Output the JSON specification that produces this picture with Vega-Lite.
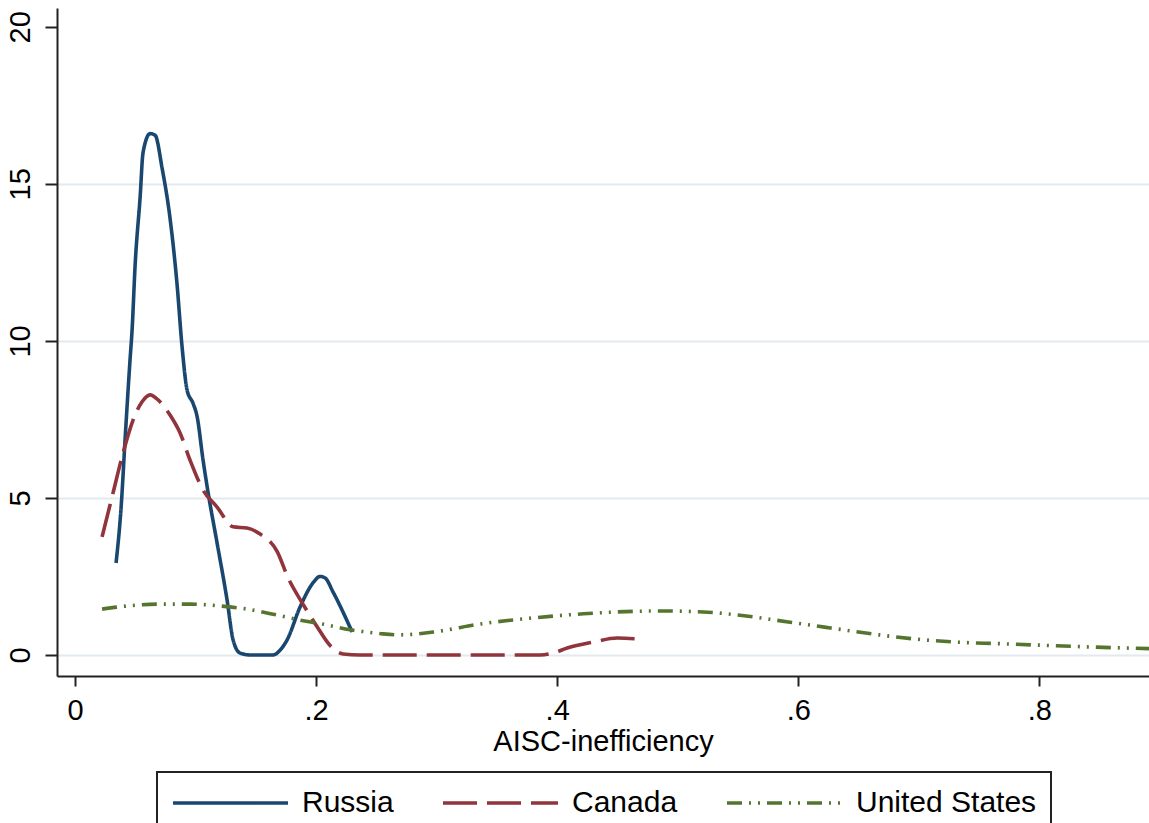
{
  "$schema": "https://vega.github.io/schema/vega-lite/v6.json",
  "width": 1092,
  "height": 668,
  "autosize": {"type": "none"},
  "padding": {"left": 57, "top": 8, "right": 0, "bottom": 147},
  "background": "white",
  "config": {
    "view": {"stroke": null},
    "font": "Liberation Sans",
    "axis": {"labelFont": "Liberation Sans", "titleFont": "Liberation Sans"},
    "legend": {"labelFont": "Liberation Sans"}
  },
  "data": {"values": [
    {"country": "Russia", "x": 0.034, "y": 2.93},
    {"country": "Russia", "x": 0.038, "y": 4.6},
    {"country": "Russia", "x": 0.042, "y": 7.2},
    {"country": "Russia", "x": 0.0456, "y": 9.4},
    {"country": "Russia", "x": 0.0473, "y": 10.35},
    {"country": "Russia", "x": 0.0498, "y": 12.4},
    {"country": "Russia", "x": 0.054, "y": 14.6},
    {"country": "Russia", "x": 0.0564, "y": 16.0},
    {"country": "Russia", "x": 0.0622, "y": 16.6},
    {"country": "Russia", "x": 0.0664, "y": 16.55},
    {"country": "Russia", "x": 0.0722, "y": 15.5},
    {"country": "Russia", "x": 0.0788, "y": 13.9},
    {"country": "Russia", "x": 0.0846, "y": 11.8},
    {"country": "Russia", "x": 0.0888, "y": 9.8},
    {"country": "Russia", "x": 0.0929, "y": 8.44},
    {"country": "Russia", "x": 0.098, "y": 8.0},
    {"country": "Russia", "x": 0.1012, "y": 7.6},
    {"country": "Russia", "x": 0.1062, "y": 6.2},
    {"country": "Russia", "x": 0.1104, "y": 5.16},
    {"country": "Russia", "x": 0.1178, "y": 3.57},
    {"country": "Russia", "x": 0.1261, "y": 1.75},
    {"country": "Russia", "x": 0.1311, "y": 0.48},
    {"country": "Russia", "x": 0.1369, "y": 0.06},
    {"country": "Russia", "x": 0.1452, "y": 0},
    {"country": "Russia", "x": 0.1643, "y": 0},
    {"country": "Russia", "x": 0.170, "y": 0.15},
    {"country": "Russia", "x": 0.1759, "y": 0.48},
    {"country": "Russia", "x": 0.1867, "y": 1.53},
    {"country": "Russia", "x": 0.1975, "y": 2.3},
    {"country": "Russia", "x": 0.2033, "y": 2.5},
    {"country": "Russia", "x": 0.2075, "y": 2.45},
    {"country": "Russia", "x": 0.2141, "y": 2.0},
    {"country": "Russia", "x": 0.2299, "y": 0.73},
    {"country": "Canada", "x": 0.0224, "y": 3.76},
    {"country": "Canada", "x": 0.0315, "y": 5.16},
    {"country": "Canada", "x": 0.0398, "y": 6.43},
    {"country": "Canada", "x": 0.0481, "y": 7.48},
    {"country": "Canada", "x": 0.0556, "y": 8.06},
    {"country": "Canada", "x": 0.0622, "y": 8.28},
    {"country": "Canada", "x": 0.0689, "y": 8.12},
    {"country": "Canada", "x": 0.0788, "y": 7.64},
    {"country": "Canada", "x": 0.0871, "y": 7.07},
    {"country": "Canada", "x": 0.0954, "y": 6.2},
    {"country": "Canada", "x": 0.1062, "y": 5.25},
    {"country": "Canada", "x": 0.1178, "y": 4.71},
    {"country": "Canada", "x": 0.1311, "y": 4.08},
    {"country": "Canada", "x": 0.1427, "y": 4.04},
    {"country": "Canada", "x": 0.1535, "y": 3.85},
    {"country": "Canada", "x": 0.1676, "y": 3.3},
    {"country": "Canada", "x": 0.1768, "y": 2.45},
    {"country": "Canada", "x": 0.1884, "y": 1.66},
    {"country": "Canada", "x": 0.2008, "y": 0.9},
    {"country": "Canada", "x": 0.2116, "y": 0.3},
    {"country": "Canada", "x": 0.2224, "y": 0.03},
    {"country": "Canada", "x": 0.2365, "y": 0},
    {"country": "Canada", "x": 0.3859, "y": 0},
    {"country": "Canada", "x": 0.3967, "y": 0.06},
    {"country": "Canada", "x": 0.4083, "y": 0.22},
    {"country": "Canada", "x": 0.4299, "y": 0.41},
    {"country": "Canada", "x": 0.4498, "y": 0.54},
    {"country": "Canada", "x": 0.4672, "y": 0.51},
    {"country": "United States", "x": 0.0224, "y": 1.46},
    {"country": "United States", "x": 0.0432, "y": 1.56},
    {"country": "United States", "x": 0.068, "y": 1.62},
    {"country": "United States", "x": 0.0954, "y": 1.62},
    {"country": "United States", "x": 0.1203, "y": 1.56},
    {"country": "United States", "x": 0.1427, "y": 1.46},
    {"country": "United States", "x": 0.1676, "y": 1.27},
    {"country": "United States", "x": 0.1867, "y": 1.11},
    {"country": "United States", "x": 0.2033, "y": 1.0},
    {"country": "United States", "x": 0.2282, "y": 0.8},
    {"country": "United States", "x": 0.2423, "y": 0.73},
    {"country": "United States", "x": 0.2556, "y": 0.67},
    {"country": "United States", "x": 0.2697, "y": 0.64},
    {"country": "United States", "x": 0.2971, "y": 0.73},
    {"country": "United States", "x": 0.3386, "y": 1.0},
    {"country": "United States", "x": 0.3801, "y": 1.18},
    {"country": "United States", "x": 0.4216, "y": 1.31},
    {"country": "United States", "x": 0.4498, "y": 1.37},
    {"country": "United States", "x": 0.4863, "y": 1.4},
    {"country": "United States", "x": 0.5212, "y": 1.37},
    {"country": "United States", "x": 0.5568, "y": 1.24},
    {"country": "United States", "x": 0.5917, "y": 1.05},
    {"country": "United States", "x": 0.6266, "y": 0.86},
    {"country": "United States", "x": 0.6614, "y": 0.67},
    {"country": "United States", "x": 0.6963, "y": 0.51},
    {"country": "United States", "x": 0.7303, "y": 0.41},
    {"country": "United States", "x": 0.7668, "y": 0.36},
    {"country": "United States", "x": 0.8017, "y": 0.31},
    {"country": "United States", "x": 0.8373, "y": 0.26},
    {"country": "United States", "x": 0.8722, "y": 0.22},
    {"country": "United States", "x": 0.891, "y": 0.2}
  ]},
  "mark": {"type": "line", "interpolate": "monotone", "strokeWidth": 3.6, "clip": true},
  "encoding": {
    "x": {
      "field": "x", "type": "quantitative",
      "scale": {"domain": [-0.015, 0.891], "nice": false, "zero": false},
      "axis": {
        "values": [0, 0.2, 0.4, 0.6, 0.8],
        "labelExpr": "datum.value == 0 ? '0' : replace(format(datum.value, '.1f'), '0.', '.')",
        "title": "AISC-inefficiency",
        "titleFontSize": 29, "titleFontWeight": "normal", "titleColor": "black", "titlePadding": 2,
        "labelFontSize": 29, "labelColor": "black", "labelPadding": 10,
        "domainColor": "#222", "domainWidth": 2,
        "tickColor": "#222", "tickWidth": 2, "tickSize": 10,
        "grid": false
      }
    },
    "y": {
      "field": "y", "type": "quantitative",
      "scale": {"domain": [-0.67, 20.6], "nice": false, "zero": false},
      "axis": {
        "values": [0, 5, 10, 15, 20],
        "title": null,
        "labelAngle": 270,
        "labelFontSize": 29, "labelColor": "black", "labelPadding": 10,
        "domainColor": "#222", "domainWidth": 2,
        "tickColor": "#222", "tickWidth": 2, "tickSize": 12,
        "grid": true,
        "gridColor": {"condition": {"test": "datum.value == 20", "value": "transparent"}, "value": "#e1eaef"},
        "gridWidth": 2
      }
    },
    "color": {
      "field": "country", "type": "nominal",
      "scale": {"domain": ["Russia", "Canada", "United States"], "range": ["#1a476f", "#90353b", "#55752f"]},
      "legend": {
        "title": null,
        "orient": "none",
        "legendX": 100,
        "legendY": 764,
        "direction": "horizontal",
        "strokeColor": "#222",
        "padding": 14,
        "symbolType": "stroke",
        "symbolSize": 13225,
        "symbolStrokeWidth": 3.6,
        "labelFontSize": 30,
        "labelLimit": 400,
        "labelColor": "black",
        "labelOffset": 12,
        "columnPadding": 41,
        "encode": {
          "legend": {"update": {"strokeWidth": {"value": 2}}},
          "symbols": {"update": {"y": {"value": 17}}},
          "labels": {"update": {"y": {"value": 17}}}
        }
      }
    },
    "strokeDash": {
      "field": "country", "type": "nominal",
      "scale": {"domain": ["Russia", "Canada", "United States"], "range": [[1, 0], [34, 10], [15, 7, 2, 7, 2, 7]]},
      "legend": null
    }
  }
}
